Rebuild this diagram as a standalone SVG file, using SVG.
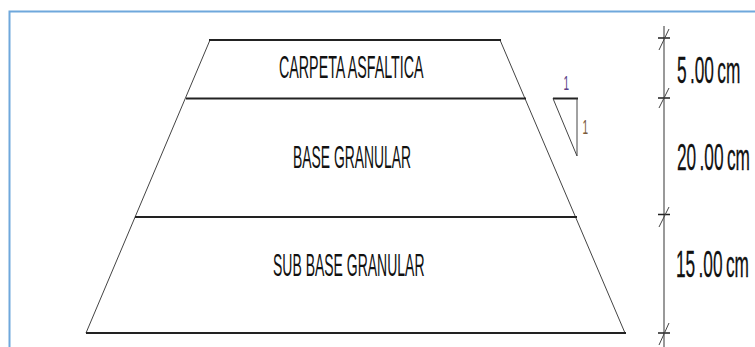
<svg xmlns="http://www.w3.org/2000/svg" width="755" height="347" viewBox="0 0 755 347">
<style>
text{font-family:"Liberation Sans",Arial,sans-serif;fill:#111}
.lab{font-size:32px}
.dim{font-size:36px;word-spacing:-3px;stroke:#111;stroke-width:.3}
.h{stroke:#222;stroke-width:2;fill:none}
.t{stroke:#444;stroke-width:1;fill:none}
.d{stroke:#777;stroke-width:1.5;fill:none}
.k{stroke:#222;stroke-width:1.6;fill:none}
</style>
<rect width="755" height="347" fill="#fff"/>
<path d="M755 11.500H9.500V347" fill="none" stroke="#6fa8dc" stroke-width="2"/>
<g id="connectors">
<path class="t" d="M210 40L86 333M500 40L625 333"/>
<path class="h" d="M209 40H501M186 98.500H526M135 217H577M86 333H626"/>
</g>
<g id="capa-carpeta"><text class="lab" transform="translate(279 78) scale(.446 1)">CARPETA ASFALTICA</text></g>
<g id="capa-base"><text class="lab" transform="translate(293 168) scale(.434 1)">BASE GRANULAR</text></g>
<g id="capa-subbase"><text class="lab" transform="translate(273 276) scale(.437 1)">SUB BASE GRANULAR</text></g>
<g id="talud">
<path class="h" d="M553 98.500H578"/>
<path class="t" d="M553 98.500L577 156V98.500"/>
<text transform="translate(563.500 90) scale(.5 1)" font-size="20" style="fill:#5b3f86">1</text>
<text transform="translate(582.500 134) scale(.5 1)" font-size="20" style="fill:#7a5a3a">1</text>
</g>
<g id="cota">
<path class="d" d="M664 26V347"/>
<path class="k" d="M658 38H670M658 98H670M658 214.500H670M658 333H670"/>
<path class="t" d="M659 50L669 29M659 108L669 88M659 227L669 207M659 345L669 323"/>
<text class="dim" transform="translate(677 83) scale(.48 1)">5 .00 cm</text>
<text class="dim" transform="translate(677 170) scale(.48 1)">20 .00 cm</text>
<text class="dim" transform="translate(676 277) scale(.48 1)">15 .00 cm</text>
</g>
</svg>
